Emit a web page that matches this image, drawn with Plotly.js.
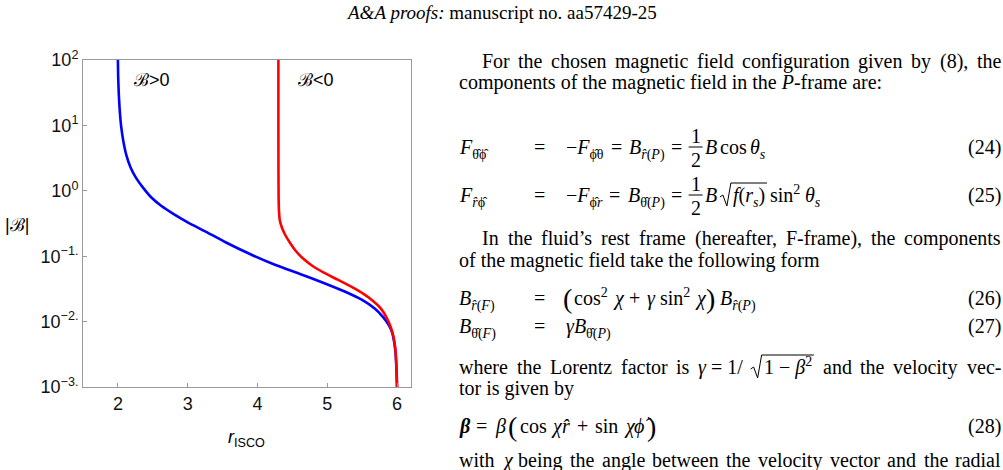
<!DOCTYPE html>
<html><head><meta charset="utf-8">
<script src="https://cdn.plot.ly/plotly-3.0.1.min.js"></script>
<style>html,body{margin:0;padding:0;background:#fff;}#g{width:1003px;height:470px;}</style>
</head><body><div id="g"></div>
<script>
// ---- data ----
const rPos = [2.000, 2.004, 2.012, 2.025, 2.045, 2.075, 2.12, 2.18, 2.26, 2.36, 2.48, 2.62, 2.80, 3.00, 3.25, 3.55, 3.90, 4.25, 4.60, 4.95, 5.25, 5.50, 5.68, 5.80, 5.88, 5.93, 5.96, 5.98, 5.99, 5.997, 6.0];
const bPos = [100, 56, 31.6, 17.8, 10, 6.0, 3.55, 2.3, 1.58, 1.12, 0.79, 0.59, 0.44, 0.33, 0.24, 0.162, 0.107, 0.074, 0.054, 0.039, 0.0288, 0.0214, 0.0158, 0.0117, 0.0089, 0.0068, 0.0048, 0.0032, 0.002, 0.00126, 0.001];
const rNeg = [4.300, 4.300, 4.301, 4.303, 4.308, 4.32, 4.35, 4.40, 4.47, 4.55, 4.65, 4.78, 4.95, 5.15, 5.35, 5.52, 5.66, 5.77, 5.85, 5.91, 5.95, 5.972, 5.987, 5.996, 6.0];
const bNeg = [100, 10, 2.0, 0.79, 0.5, 0.355, 0.275, 0.209, 0.158, 0.12, 0.093, 0.072, 0.056, 0.0437, 0.0339, 0.0265, 0.0205, 0.0158, 0.0115, 0.0082, 0.0058, 0.0041, 0.0026, 0.0015, 0.001];
const xTickVals = [2, 3, 4, 5, 6];
const yTickVals = [0.001, 0.01, 0.1, 1, 10, 100];
const yTickText = ['10<sup>\u22123.</sup>', '10<sup>\u22122.</sup>', '10<sup>\u22121.</sup>', '10<sup>0</sup>', '10<sup>1</sup>', '10<sup>2</sup>'];
const seriesNames = ['\u212C>0', '\u212C<0'];

// ---- layout helpers ----
const PL = 83, PR = 411, PT = 60, PB = 387;
const SANS = 'Liberation Sans, Arial, sans-serif';
const SERIF = 'Liberation Serif, Times New Roman, serif';
const BODY = 20;
const NORM = '<sup>\u00A0</sup><sub>\u00A0</sub>';
const ctx = document.createElement('canvas').getContext('2d');
function px(x) { return (x - PL) / (PR - PL); }
function py(y) { return (PB - y) / (PB - PT); }
function measure(html, size) {
  const re = /<(\/?)(i|b|sub|sup)>|([^<]+)/g;
  let it = 0, bd = 0, sc = 0, w = 0, m;
  while ((m = re.exec(html))) {
    if (m[3] !== undefined) {
      const t = m[3].replace(/&amp;/g, '&');
      const s = size * (sc ? 0.7 : 1);
      ctx.font = (it ? 'italic ' : '') + (bd ? 'bold ' : '') + s + 'px "Liberation Serif"';
      w += ctx.measureText(t).width;
    } else {
      const c = m[1] ? -1 : 1;
      if (m[2] === 'i') it += c; else if (m[2] === 'b') bd += c; else sc += c;
    }
  }
  return w;
}
const ann = [], shapes = [];
function T(text, x, y, o) {
  o = o || {};
  ann.push({xref: 'paper', yref: 'paper', x: px(x), y: py(y), text: text, showarrow: false,
    xanchor: o.xa || 'left', yanchor: 'middle', borderpad: 0,
    font: {family: o.f || SERIF, size: o.s || BODY, color: o.c || '#000'}});
}
function L(x0, y0, x1, y1, w) {
  shapes.push({type: 'line', xref: 'paper', yref: 'paper', x0: px(x0), y0: py(y0), x1: px(x1), y1: py(y1),
    line: {color: '#000', width: w || 1}});
}
function radical(x, y, w) {
  const p = [[x, y + 1], [x + 3, y - 1], [x + 7, y + 10], [x + 11, y - 13], [x + 13 + w, y - 13]];
  shapes.push({type: 'path', xref: 'paper', yref: 'paper',
    path: 'M' + p.map(q => px(q[0]) + ',' + py(q[1])).join('L'), line: {color: '#000', width: 1}});
}
function txt(h, x, y, s) { T(h + NORM, x, y, {s: s}); }
function seq(y, x, items) {
  items.forEach(it => {
    if (typeof it === 'string') it = {h: it};
    const rel = (it.h === '=' || it.h === '+');
    let g = it.g === undefined ? 4 : it.g;
    if (rel) { x += 3; g += 3; }
    if (it.frac) {
      const w = Math.max(measure(it.frac[0], BODY), measure(it.frac[1], BODY)) + 4;
      T(it.frac[0], x + w / 2, y - 12, {xa: 'center'});
      T(it.frac[1], x + w / 2, y + 12, {xa: 'center'});
      L(x, y - 1, x + w, y - 1);
      x += w + g;
    } else if (it.sqrt) {
      const cw = measure(it.sqrt, BODY);
      radical(x, y, cw + 2);
      txt(it.sqrt, x + 12, y);
      x += 14 + cw + g;
    } else {
      const s = it.s || BODY;
      txt(it.h, x, y + (it.dy || 0), s);
      x += measure(it.h, s) + g;
    }
  });
}
function width(it) {
  if (typeof it === 'string') return measure(it, BODY);
  if (it.sqrt) return 14 + measure(it.sqrt, BODY);
  return 0;
}
function justify(y, x0, x1, words) {
  const ws = words.map(width);
  const tot = ws.reduce((a, b) => a + b, 0);
  const gap = (x1 - x0 - tot) / (words.length - 1);
  let x = x0;
  words.forEach((w, i) => {
    if (typeof w === 'string') txt(w, x, y);
    else { radical(x, y, ws[i] - 12); txt(w.sqrt, x + 12, y); }
    x += ws[i] + gap;
  });
}
function eqnum(n, y) { txt('(' + n + ')', 1000 - measure('(' + n + ')', BODY), y); }
function words(s) { return s.split(' '); }

const traces = [
  {x: rPos, y: bPos, mode: 'lines', name: seriesNames[0], line: {color: '#0000ff', width: 2.6, shape: 'spline', smoothing: 0.5}},
  {x: rNeg, y: bNeg, mode: 'lines', name: seriesNames[1], line: {color: '#ff0000', width: 2.6, shape: 'spline', smoothing: 0.5}}
];

// chart labels
T(seriesNames[0], 152, 80, {f: SANS, s: 18, xa: 'center'});
T(seriesNames[1], 316, 80, {f: SANS, s: 18, xa: 'center'});
T('|\u212C|', 17, 225, {f: SANS, s: 18, xa: 'center'});
T('<i>r</i><sub>ISCO</sub>', 246, 438, {f: SANS, s: 18, xa: 'center'});
// header
T('<i>A&amp;A proofs:</i> manuscript no. aa57429-25', 501, 13, {s: 19, xa: 'center'});

// paragraph 1
justify(62, 481, 1000, words('For the chosen magnetic field configuration given by (8), the'));
txt('components of the magnetic field in the <i>P</i>-frame are:', 458, 83);
// eq 24
const EQ = 533, RHS = 565;
txt('<i>F</i><sub>\u03B8\u0302\u03D5\u0302</sub>', 458, 148);
txt('=', EQ, 148);
seq(148, RHS, ['\u2212<i>F</i><sub>\u03D5\u0302\u03B8</sub>', '=', '<i>B</i><sub><i>r\u0302</i>(<i>P</i>)</sub>', '=',
  {frac: ['1', '2'], g: 1}, {h: '<i>B</i>', g: 3}, {h: 'cos', g: 3}, '<i>\u03B8</i><sub><i>s</i></sub>']);
eqnum(24, 148);
// eq 25
txt('<i>F</i><sub><i>r\u0302</i>\u03D5\u0302</sub>', 458, 196);
txt('=', EQ, 196);
seq(196, RHS, ['\u2212<i>F</i><sub>\u03D5\u0302<i>r</i></sub>', '=', '<i>B</i><sub>\u03B8\u0302(<i>P</i>)</sub>', '=',
  {frac: ['1', '2'], g: 1}, {h: '<i>B</i>', g: 4}, {sqrt: '<i>f</i>(<i>r</i><sub><i>s</i></sub>)', g: 3}, {h: 'sin<sup>2</sup>', g: 5}, '<i>\u03B8</i><sub><i>s</i></sub>']);
eqnum(25, 196);
// paragraph 2
justify(239, 481, 1000, words('In the fluid\u2019s rest frame (hereafter, F-frame), the components'));
txt('of the magnetic field take the following form', 458, 261);
// eq 26
txt('<i>B</i><sub><i>r\u0302</i>(<i>F</i>)</sub>', 458, 299);
txt('=', EQ, 299);
seq(299, 562, [{h: '(', s: 28, g: 2, dy: -1}, {h: 'cos<sup>2</sup>', g: 5}, '<i>\u03C7</i>', '+', {h: '<i>\u03B3</i>', g: 5}, {h: 'sin<sup>2</sup>', g: 5}, {h: '<i>\u03C7</i>', g: 2},
  {h: ')', s: 28, g: 5, dy: -1}, '<i>B</i><sub><i>r\u0302</i>(<i>P</i>)</sub>']);
eqnum(26, 299);
// eq 27
txt('<i>B</i><sub>\u03B8\u0302(<i>F</i>)</sub>', 458, 327);
txt('=', EQ, 327);
txt('<i>\u03B3B</i><sub>\u03B8\u0302(<i>P</i>)</sub>', RHS, 327);
eqnum(27, 327);
// paragraph 3
justify(368, 458, 1000, ['where', 'the', 'Lorentz', 'factor', 'is', '<i>\u03B3</i> = 1/', {sqrt: '1 \u2212 <i>\u03B2</i><sup>2</sup>'}, 'and', 'the', 'velocity', 'vec-']);
txt('tor is given by', 458, 389);
// eq 28
seq(427, 458, ['<b><i>\u03B2</i></b>', '=', {h: '<i>\u03B2</i>', g: 4}, {h: '(', s: 28, g: 2, dy: -1}, {h: 'cos', g: 5}, {h: '<i>\u03C7</i>', g: 2}, '<i>r\u0302</i>', '+', {h: 'sin', g: 5}, {h: '<i>\u03C7</i>', g: 2}, {h: '<i>\u03D5\u0302</i>', g: 2}, {h: ')', s: 28, dy: -1}]);
eqnum(28, 427);
justify(461, 458, 1000, words('with <i>\u03C7</i> being the angle between the velocity vector and the radial'));

const layout = {
  width: 1003, height: 470,
  margin: {l: PL, r: 1003 - PR, t: PT, b: 470 - PB, pad: 0},
  paper_bgcolor: '#fff', plot_bgcolor: '#fff',
  showlegend: false,
  xaxis: {range: [1.5, 6.2], tickvals: xTickVals, ticks: 'inside', ticklen: 4, tickcolor: '#999',
    showline: true, linecolor: '#999', linewidth: 1, mirror: true, showgrid: false, zeroline: false,
    tickfont: {family: SANS, size: 18, color: '#111'}},
  yaxis: {type: 'log', range: [-3, 2], tickvals: yTickVals, ticktext: yTickText, ticks: 'inside', ticklen: 4, tickcolor: '#999',
    showline: true, linecolor: '#999', linewidth: 1, mirror: true, showgrid: false, zeroline: false,
    tickfont: {family: SANS, size: 18, color: '#111'}},
  annotations: ann,
  shapes: shapes
};
Plotly.newPlot('g', traces, layout, {displayModeBar: false});
</script></body></html>
